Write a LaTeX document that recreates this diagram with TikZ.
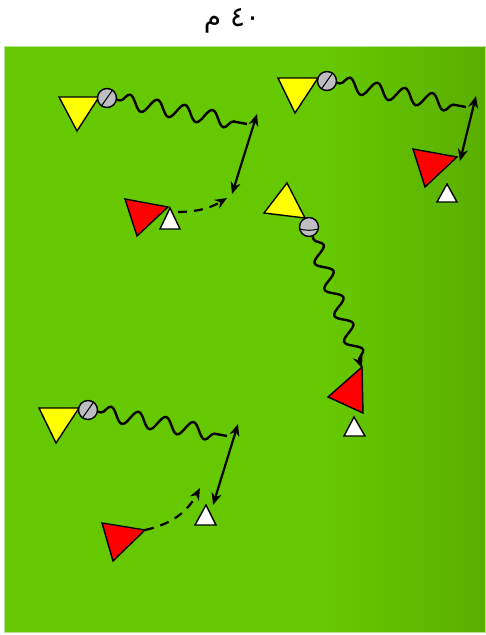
\documentclass[tikz,border=0pt]{standalone}
\usepackage{fontspec}
\newfontfamily\arabicfont[Script=Arabic]{DejaVu Sans}
\TeXXeTstate=1
\usepackage{xcolor}
\definecolor{Pitch}{HTML}{66C800}
\definecolor{PitchDark}{HTML}{5AAE00}
\definecolor{PitchEdge}{HTML}{B8E28E}
\definecolor{BallGray}{HTML}{BEBEC2}
\definecolor{Shirt}{HTML}{FFFF00}
\definecolor{Bib}{HTML}{FF0000}
\usepackage{tikz}
\usetikzlibrary{arrows.meta,decorations.pathmorphing}

\begin{document}
\begin{tikzpicture}[x=1pt,y=-1pt,
  player/.style={draw=black,line width=1.4pt,line join=miter},
  attacker/.style={player,fill=Shirt},
  defender/.style={player,fill=Bib},
  marker/.style={player,fill=white},
  ball/.style={circle,draw=black,fill=BallGray,line width=1.4pt,minimum size=19pt,inner sep=0pt},
  seam/.style={line width=1pt},
  dribble/.style={line width=2.4pt,decorate,
    decoration={snake,segment length=28pt,amplitude=7.5pt,pre length=3pt,post length=4pt}},
  pass/.style={{Stealth[length=12pt,width=10pt]}-{Stealth[length=12pt,width=10pt]},line width=2.2pt},
  run/.style={-{Stealth[length=12pt,width=10pt]},line width=2.2pt,dash pattern=on 9pt off 7pt}
]
\useasboundingbox (0,0) rectangle (486,635);
% pitch
\fill[Pitch] (4,46) rectangle (485,632);
\shade[left color=Pitch,right color=PitchDark] (330,46) rectangle (485,632);
\draw[PitchEdge,line width=1pt] (4,46) rectangle (485,632);
\node[font=\fontsize{28}{32}\selectfont] (title) at (232,21) {\arabicfont\beginR ٤٠ م\endR};

% group top left
\draw[attacker] (59,97) -- (99,97) -- (77,131) -- cycle;
\node[ball] (b1) at (107,98) {};
\draw[seam] (b1.235) -- (b1.55);
\draw[defender] (125,199) -- (168,207) -- (137,236) -- cycle;
\draw[marker] (160,229) -- (180,229) -- (170,208) -- cycle;
\coordinate (w1) at (247,124);
\coordinate (p1a) at (257,114);
\coordinate (p1b) at (232,194);
\coordinate (r1a) at (178,212);
\coordinate (r1b) at (227,198);
\draw[dribble] (b1) -- (w1);
\draw[pass] (p1a) -- (p1b);
\draw[run] (r1a) to[bend right=15] (r1b);

% group top right
\draw[attacker] (278,78) -- (318,78) -- (295,113) -- cycle;
\node[ball] (b2) at (327,81) {};
\draw[seam] (b2.235) -- (b2.55);
\draw[defender] (413,149) -- (457,157) -- (425,187) -- cycle;
\draw[marker] (437,202) -- (457,202) -- (447,184) -- cycle;
\coordinate (w2) at (466,107);
\coordinate (p2a) at (476,96);
\coordinate (p2b) at (460,161);
\draw[dribble] (b2) -- (w2);
\draw[pass] (p2a) -- (p2b);

% group middle
\draw[attacker] (264,213) -- (305,218) -- (287,183) -- cycle;
\node[ball] (b3) at (309,227) {};
\draw[seam] (b3.190) to[bend right=15] (b3.-10);
\draw[defender] (362,367) -- (363,413) -- (328,397) -- cycle;
\draw[marker] (344,436) -- (365,436) -- (354,417) -- cycle;
\coordinate (w3) at (362,368);
\draw[dribble,-{Stealth[length=12pt,width=10pt]}] (b3) -- (w3);

% group bottom left
\draw[attacker] (39,408) -- (79,408) -- (56,443) -- cycle;
\node[ball] (b4) at (88,410) {};
\draw[seam] (b4.235) -- (b4.55);
\draw[marker] (195,525) -- (216,525) -- (206,505) -- cycle;
\draw[defender] (102,523) -- (145,530) -- (113,561) -- cycle;
\coordinate (w4) at (227,436);
\coordinate (p4a) at (238,424);
\coordinate (p4b) at (213,505);
\coordinate (r4a) at (145,530);
\coordinate (r4b) at (200,488);
\draw[dribble] (b4) -- (w4);
\draw[pass] (p4a) -- (p4b);
\draw[run] (r4a) to[bend right=25] (r4b);
\end{tikzpicture}
\end{document}
